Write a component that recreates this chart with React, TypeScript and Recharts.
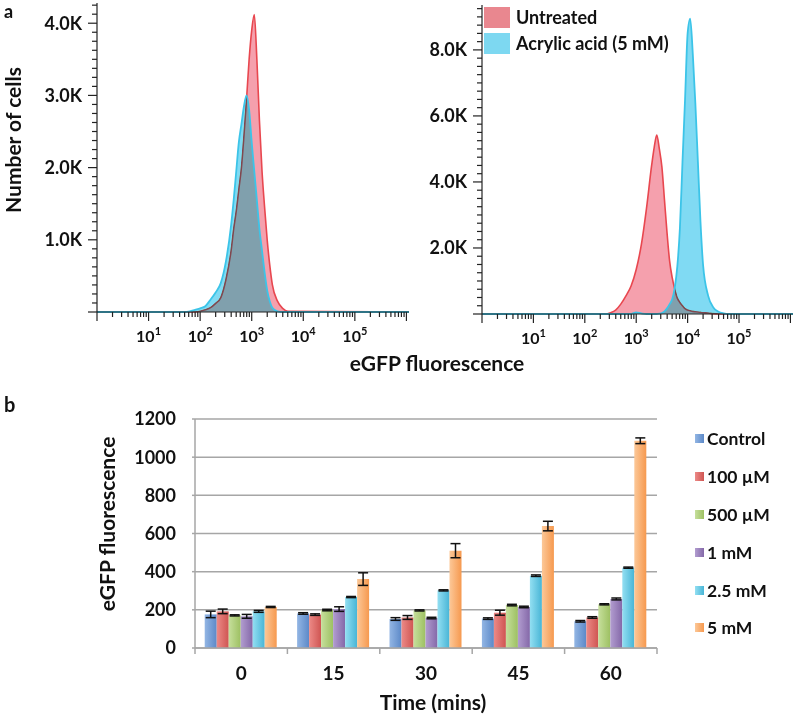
import React from "react";
import {
  AreaChart,
  Area,
  XAxis,
  YAxis,
  Legend,
  BarChart,
  Bar,
  ErrorBar,
  CartesianGrid,
} from "recharts";

const FONT = "Lato, 'Open Sans', 'DejaVu Sans', sans-serif";
const INK = "#111";

// ---- panel a: histograms, x = log10(eGFP), y = cells (K) ----
const leftX = [0, 1.7, 1.8, 1.9, 2.0, 2.1, 2.2, 2.3, 2.4, 2.5, 2.6, 2.65, 2.7, 2.75, 2.8, 2.85, 2.9, 2.95, 3.0, 3.05, 3.1, 3.15, 3.2, 3.25, 3.3, 3.35, 3.4, 3.5, 3.6, 3.7, 6.05];
const leftUntreated = [0, 0, 0, 0, 0.01, 0.03, 0.06, 0.12, 0.2, 0.45, 0.85, 1.15, 1.4, 1.7, 2.0, 2.45, 2.95, 3.5, 3.9, 4.12, 3.5, 2.65, 1.95, 1.45, 1.0, 0.65, 0.38, 0.15, 0.05, 0.01, 0];
const leftTreated = [0, 0, 0.01, 0.03, 0.05, 0.08, 0.17, 0.27, 0.4, 0.7, 1.2, 1.55, 1.95, 2.35, 2.6, 2.85, 3.0, 2.8, 2.35, 1.95, 1.55, 1.15, 0.85, 0.55, 0.3, 0.15, 0.06, 0.01, 0, 0, 0];

const rightX = [0, 2.4, 2.5, 2.6, 2.7, 2.8, 2.9, 3.0, 3.1, 3.2, 3.3, 3.35, 3.4, 3.45, 3.5, 3.55, 3.6, 3.65, 3.7, 3.75, 3.8, 3.85, 3.9, 3.95, 4.0, 4.05, 4.1, 4.15, 4.2, 4.25, 4.3, 4.4, 4.5, 4.6, 4.7, 4.8, 6.05];
const rightUntreated = [0, 0, 0.04, 0.12, 0.3, 0.55, 0.85, 1.35, 2.1, 3.2, 4.5, 5.05, 5.42, 5.0, 4.45, 3.45, 2.45, 1.6, 1.1, 0.75, 0.48, 0.35, 0.25, 0.16, 0.12, 0.1, 0.08, 0.07, 0.06, 0.05, 0.04, 0.03, 0.01, 0, 0, 0, 0];
const rightTreated = [0, 0, 0, 0, 0, 0, 0, 0.05, 0.02, 0, 0, 0, 0, 0.01, 0.03, 0.08, 0.17, 0.3, 0.45, 0.8, 1.45, 2.6, 4.6, 6.5, 8.5, 8.95, 7.9, 6.4, 4.6, 2.8, 1.5, 0.55, 0.2, 0.07, 0.02, 0, 0];

const flowLegend = ["Untreated", "Acrylic acid (5 mM)"];

const UNT_LINE = "#e8474f";
const UNT_FILL = "#f5a0ad";
const TRT_LINE = "#3cc4e8";
const TRT_FILL = "#80daf3";

// ---- panel b: bars ----
const times = ["0", "15", "30", "45", "60"];
const seriesNames = ["Control", "100 µM", "500 µM", "1 mM", "2.5 mM", "5 mM"];
const controlVals = [176, 181, 152, 154, 140];
const controlErr = [17, 4, 7, 4, 4];
const uM100Vals = [192, 175, 160, 185, 160];
const uM100Err = [12, 4, 10, 13, 4];
const uM500Vals = [171, 199, 197, 225, 229];
const uM500Err = [3, 4, 3, 4, 3];
const mM1Vals = [166, 204, 157, 215, 257];
const mM1Err = [10, 12, 4, 4, 5];
const mM25Vals = [192, 267, 302, 379, 421];
const mM25Err = [5, 3, 3, 4, 3];
const mM5Vals = [215, 361, 510, 639, 1086];
const mM5Err = [3, 33, 37, 25, 15];

const barColors = [
  ["#93b6e4", "#5c89c8"],
  ["#ec8a87", "#cf5552"],
  ["#c6df9c", "#9dc062"],
  ["#b29dd0", "#8468a8"],
  ["#93dff2", "#48b5d6"],
  ["#fcc898", "#f6994f"],
];

const allVals = [controlVals, uM100Vals, uM500Vals, mM1Vals, mM25Vals, mM5Vals];
const allErr = [controlErr, uM100Err, uM500Err, mM1Err, mM25Err, mM5Err];

const leftData = leftX.map((x, i) => ({ x, untreated: leftUntreated[i], treated: leftTreated[i] }));
const rightData = rightX.map((x, i) => ({ x, untreated: rightUntreated[i], treated: rightTreated[i] }));
const barData = times.map((t, i) => {
  const row: Record<string, string | number> = { time: t };
  allVals.forEach((vals, s) => {
    row[`s${s}`] = vals[i];
    row[`e${s}`] = allErr[s][i];
  });
  return row;
});

const decades = [0, 1, 2, 3, 4, 5, 6];
const flowXTicks = decades
  .flatMap((d) => [d, ...[2, 3, 4, 5, 6, 7, 8, 9].map((m) => d + Math.log10(m))])
  .filter((t) => t <= 6.05);
const leftYTicks = Array.from({ length: 35 }, (_, i) => i * 0.125);
const rightYTicks = Array.from({ length: 38 }, (_, i) => i * 0.25);

const FlowXTick = (props: any) => {
  const { x, y, payload } = props;
  const v = payload.value;
  const major = Math.abs(v - Math.round(v)) < 1e-6;
  return (
    <g>
      <line x1={x} x2={x} y1={y} y2={y + (major ? 9 : 5)} stroke="#222" strokeWidth={1.2} />
      {major && v >= 1 && v <= 5 && (
        <text x={x} y={y + 30} textAnchor="middle" fontFamily={FONT} fontWeight={700} fontSize={16} fill={INK}>
          10
          <tspan fontSize={11} dy={-7}>
            {Math.round(v)}
          </tspan>
        </text>
      )}
    </g>
  );
};

const FlowYTick = (props: any) => {
  const { x, y, payload, step } = props;
  const v = payload.value;
  const major = Math.abs(v / step - Math.round(v / step)) < 1e-6;
  return (
    <g>
      <line x1={x - (major ? 9 : 5)} x2={x} y1={y} y2={y} stroke="#222" strokeWidth={1.2} />
      {major && v > 0 && (
        <text x={x - 15} y={y + 6.5} textAnchor="end" fontFamily={FONT} fontWeight={700} fontSize={18} fill={INK}>
          {v.toFixed(1)}K
        </text>
      )}
    </g>
  );
};

const FlowLegend = () => (
  <div style={{ fontFamily: FONT, fontWeight: 700, fontSize: 18, color: INK }}>
    {flowLegend.map((name, i) => (
      <div key={name} style={{ display: "flex", alignItems: "center", height: 26 }}>
        <div style={{ width: 26, height: 21, background: i === 0 ? "#e9878f" : "#7dd8f1", marginRight: 6 }} />
        <span>{name}</span>
      </div>
    ))}
  </div>
);

const Histogram = ({ data, ymax, yTicks, step, yWidth, width, right, top, xHeight, showLegend }: any) => (
  <AreaChart width={width} height={380} data={data} margin={{ top, right, left: 0, bottom: 0 }}>
    <XAxis
      dataKey="x"
      type="number"
      domain={[0, 6.05]}
      ticks={flowXTicks}
      interval={0}
      tickSize={0}
      tickMargin={0}
      tickLine={false}
      height={xHeight}
      axisLine={{ stroke: "#222", strokeWidth: 1.2 }}
      tick={(p: any) => <FlowXTick {...p} />}
    />
    <XAxis xAxisId="top" orientation="top" type="number" domain={[0, 6.05]} height={0} tick={false} tickLine={false} axisLine={{ stroke: "#555", strokeWidth: 1.2 }} />
    <YAxis
      type="number"
      domain={[0, ymax]}
      ticks={yTicks}
      interval={0}
      tickSize={0}
      tickMargin={0}
      tickLine={false}
      width={yWidth}
      axisLine={{ stroke: "#222", strokeWidth: 1.2 }}
      tick={(p: any) => <FlowYTick {...p} step={step} />}
    />
    <YAxis yAxisId="right" orientation="right" type="number" domain={[0, ymax]} width={0} tick={false} tickLine={false} axisLine={{ stroke: "#555", strokeWidth: 1.2 }} />
    <Area
      type="monotone"
      dataKey="untreated"
      stroke={UNT_LINE}
      strokeWidth={1.6}
      fill={UNT_FILL}
      fillOpacity={1}
      dot={false}
      activeDot={false}
      isAnimationActive={false}
    />
    <Area
      type="monotone"
      dataKey="treated"
      stroke={TRT_LINE}
      strokeWidth={1.8}
      fill={TRT_FILL}
      fillOpacity={1}
      dot={false}
      activeDot={false}
      isAnimationActive={false}
    />
    {showLegend && (
      <Legend
        layout="vertical"
        align="center"
        verticalAlign="middle"
        wrapperStyle={{ left: 84, top: 4, width: 240 }}
        content={() => <FlowLegend />}
      />
    )}
  </AreaChart>
);

const BAND = (657 - 195) / times.length;

const TimeTick = (props: any) => {
  const { x, y, payload, index } = props;
  return (
    <g>
      <line x1={x - BAND / 2} x2={x - BAND / 2} y1={y} y2={y + 6} stroke="#a6a6a6" strokeWidth={1.5} />
      {index === times.length - 1 && (
        <line x1={x + BAND / 2} x2={x + BAND / 2} y1={y} y2={y + 6} stroke="#a6a6a6" strokeWidth={1.5} />
      )}
      <text x={x} y={y + 32} textAnchor="middle" fontFamily={FONT} fontWeight={700} fontSize={19} fill={INK}>
        {payload.value}
      </text>
    </g>
  );
};

const BarLegend = () => (
  <div style={{ fontFamily: FONT, fontWeight: 700, fontSize: 17.5, color: INK }}>
    {seriesNames.map((name, i) => (
      <div key={name} style={{ display: "flex", alignItems: "center", height: 37.8 }}>
        <div
          style={{
            width: 9,
            height: 9,
            marginRight: 3,
            background: `linear-gradient(to right, ${barColors[i][0]}, ${barColors[i][1]})`,
          }}
        />
        <span>{name}</span>
      </div>
    ))}
  </div>
);

export default function App() {
  return (
    <div style={{ position: "absolute", left: 0, top: 0, width: 795, height: 717, background: "#fff" }}>
      {/* overlap of the two histograms reads as a darker blue-grey, as in the flow software */}
      <style>{`path[fill="${TRT_FILL}"]{mix-blend-mode:darken}`}</style>
      <div style={{ position: "absolute", left: 0, top: 0 }}>
        <Histogram data={leftData} ymax={4.28} yTicks={leftYTicks} step={1} yWidth={97} width={420} right={11} top={3} xHeight={68} />
      </div>
      <div style={{ position: "absolute", left: 400, top: 0 }}>
        <Histogram data={rightData} ymax={9.36} yTicks={rightYTicks} step={2} yWidth={82} width={395} right={2} top={5} xHeight={66} showLegend />
      </div>
      <div style={{ position: "absolute", left: 0, top: 380 }}>
        <BarChart width={795} height={337} data={barData} margin={{ top: 39, right: 138, left: 0, bottom: 0 }} barCategoryGap="10.5%" barGap={0}>
          <defs>
            {barColors.map((c, i) => (
              <linearGradient key={i} id={`barGrad${i}`} x1="0" y1="0" x2="1" y2="0">
                <stop offset="0%" stopColor={c[0]} />
                <stop offset="100%" stopColor={c[1]} />
              </linearGradient>
            ))}
          </defs>
          <CartesianGrid vertical={false} stroke="#a6a6a6" strokeWidth={1.5} />
          <XAxis
            dataKey="time"
            height={69}
            interval={0}
            tickSize={0}
            tickMargin={0}
            tickLine={false}
            axisLine={{ stroke: "#a6a6a6", strokeWidth: 1.5 }}
            tick={(p: any) => <TimeTick {...p} />}
          />
          <YAxis
            width={195}
            domain={[0, 1200]}
            ticks={[0, 200, 400, 600, 800, 1000, 1200]}
            interval={0}
            tickSize={3}
            tickMargin={16}
            tickLine={{ stroke: "#a6a6a6", strokeWidth: 1.5 }}
            axisLine={{ stroke: "#a6a6a6", strokeWidth: 1.5 }}
            tick={{ fontSize: 18, fontWeight: 700, fill: INK, fontFamily: FONT }}
          />
          {seriesNames.map((name, i) => (
            <Bar key={name} name={name} dataKey={`s${i}`} fill={`url(#barGrad${i})`} isAnimationActive={false}>
              <ErrorBar dataKey={`e${i}`} width={5} stroke="#111" strokeWidth={1.5} direction="y" />
            </Bar>
          ))}
          <Legend
            layout="vertical"
            align="center"
            verticalAlign="middle"
            wrapperStyle={{ left: 695, top: 40, width: 100 }}
            content={() => <BarLegend />}
          />
        </BarChart>
      </div>
      <svg
        width={795}
        height={717}
        style={{ position: "absolute", left: 0, top: 0, pointerEvents: "none" }}
        fontFamily={FONT}
        fontWeight={700}
        fill={INK}
      >
        <text x={4} y={18} fontSize={18}>a</text>
        <text transform="translate(20.5,140) rotate(-90)" textAnchor="middle" fontSize={21}>
          Number of cells
        </text>
        <text x={437} y={371} textAnchor="middle" fontSize={21}>
          eGFP fluorescence
        </text>
        <text x={4} y={412} fontSize={20}>b</text>
        <text transform="translate(115,524) rotate(-90)" textAnchor="middle" fontSize={21}>
          eGFP fluorescence
        </text>
        <text x={433} y={710} textAnchor="middle" fontSize={21}>
          Time (mins)
        </text>
      </svg>
    </div>
  );
}
